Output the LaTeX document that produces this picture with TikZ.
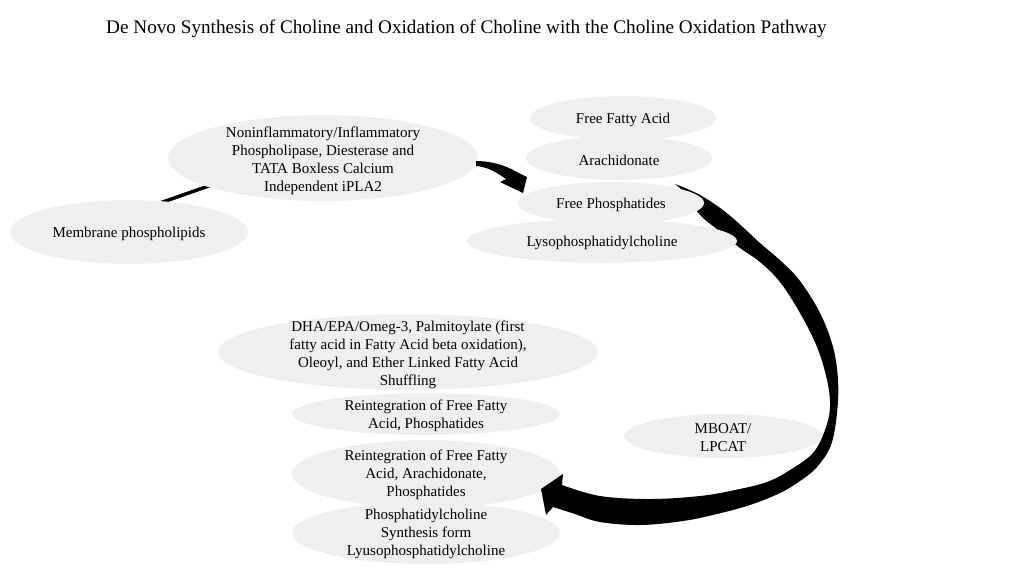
\documentclass[tikz,border=0pt]{standalone}
\usepackage{fontspec}
\setmainfont{Liberation Serif}
\usetikzlibrary{shapes.geometric}
\definecolor{blobgray}{RGB}{239,239,239}
\begin{document}
\begin{tikzpicture}[x=1pt,y=-1pt,
  blob/.style={ellipse, fill=blobgray, draw=none, inner sep=0pt, outer sep=0pt},
  txt/.style={align=center, inner sep=0pt, yshift=-2pt, font=\fontsize{15}{18}\selectfont},
  band/.style={fill=black, draw=none}
]
\useasboundingbox (0,0) rectangle (1024,576);

% title
\node[anchor=base west, inner sep=0pt, font=\fontsize{19.2}{23}\selectfont] (title) at (106,33)
  {De Novo Synthesis of Choline and Oxidation of Choline with the Choline Oxidation Pathway};

% connector hidden behind the first two ellipses
\coordinate (m1) at (140,210);
\coordinate (m2) at (240,175);
\draw[line width=3.5pt] (m1) -- (m2);

% lower-layer ellipses
\node[blob, minimum width=238pt, minimum height=64pt] (memb) at (129,232) {};
\node[blob, minimum width=310pt, minimum height=86pt] (noninfl) at (323,158) {};
\node[blob, minimum width=380pt, minimum height=76pt] (dha) at (408,352) {};
\node[blob, minimum width=268pt, minimum height=42pt] (reint1) at (426,414) {};
\node[blob, minimum width=268pt, minimum height=68pt] (reint2) at (426,474) {};
\node[blob, minimum width=268pt, minimum height=62pt] (pc) at (426,533) {};

% big curved ribbon arrow (MBOAT/LPCAT cycle)
\coordinate (bigstart) at (675,184);
\coordinate (bigtip) at (541,489);
\fill[band] plot[smooth, tension=0.6] coordinates {(675,184) (700,195) (728,214) (760,243) (782,262) (800,281) (820,313) (833,347) (838,380) (837,413) (831,445) (817,467) (800,481) (780,493) (750,505) (717,514) (683,521) (640,525) (600,522) (575,514) (553,507)}
  -- (546,515) -- (bigtip) -- (563,474) --
  plot[smooth, tension=0.6] coordinates {(562,485) (600,496) (650,499) (700,496) (735,490) (767,482) (790,470) (813,453) (825,430) (830,407) (827,380) (817,347) (800,313) (780,282) (760,262) (740,248) (718,230) (700,215) (690,200) (680,188)}
  -- cycle;

% upper-layer ellipses
\node[blob, minimum width=186pt, minimum height=44pt] (ffa) at (623,118) {};
\node[blob, minimum width=186pt, minimum height=44pt] (arach) at (619,158) {};
\node[blob, minimum width=186pt, minimum height=42pt] (fp) at (611,203) {};
\node[blob, minimum width=270pt, minimum height=44pt] (lyso) at (602,241) {};
\node[blob, minimum width=198pt, minimum height=44pt] (mboat) at (723,436) {};

% small curved arrow from the phospholipase ellipse to the released products
\coordinate (smallstart) at (476,161);
\coordinate (smalltip) at (523,193);
\fill[band] (smallstart) .. controls (490,161) and (505,165) .. (517,172) -- (527,177) -- (smalltip) -- (500,182) -- (506,179) .. controls (496,172) and (488,167) .. (476,166) -- cycle;

% texts
\node[txt] (memb-t) at (memb.center) {Membrane phospholipids};
\node[txt] (noninfl-t) at (323,159) {Noninflammatory/Inflammatory\\Phospholipase, Diesterase and\\TATA Boxless Calcium\\Independent iPLA2};
\node[txt] (ffa-t) at (ffa.center) {Free Fatty Acid};
\node[txt] (arach-t) at (arach.center) {Arachidonate};
\node[txt] (fp-t) at (fp.center) {Free Phosphatides};
\node[txt] (lyso-t) at (lyso.center) {Lysophosphatidylcholine};
\node[txt] (dha-t) at (408,353) {DHA/EPA/Omeg-3, Palmitoylate (first\\fatty acid in Fatty Acid beta oxidation),\\Oleoyl, and Ether Linked Fatty Acid\\Shuffling};
\node[txt] (reint1-t) at (426,414) {Reintegration of Free Fatty\\Acid, Phosphatides};
\node[txt] (reint2-t) at (426,473) {Reintegration of Free Fatty\\Acid, Arachidonate,\\Phosphatides};
\node[txt] (pc-t) at (426,532) {Phosphatidylcholine\\Synthesis form\\Lyusophosphatidylcholine};
\node[txt] (mboat-t) at (mboat.center) {MBOAT/\\LPCAT};
\end{tikzpicture}
\end{document}
